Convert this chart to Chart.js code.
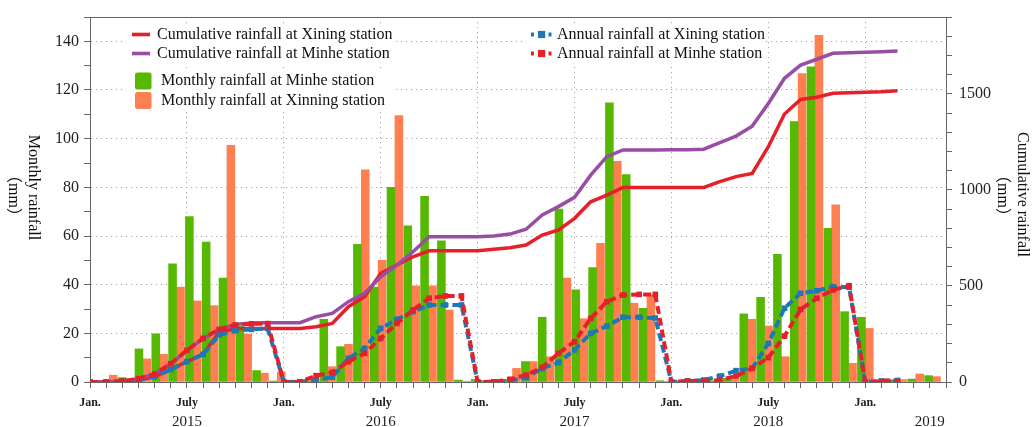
<!DOCTYPE html>
<html><head><meta charset="utf-8">
<script src="https://cdn.jsdelivr.net/npm/chart.js@4.4.0/dist/chart.umd.min.js"></script>
<style>html,body{margin:0;padding:0;background:#fff;overflow:hidden}canvas{display:block}</style>
</head><body>
<canvas id="c" width="1032" height="427"></canvas>
<script>
// ---- categories (months, Jan 2015 .. Mar 2019) ----
const months = ['2015-01','2015-02','2015-03','2015-04','2015-05','2015-06','2015-07','2015-08','2015-09','2015-10','2015-11','2015-12',
  '2016-01','2016-02','2016-03','2016-04','2016-05','2016-06','2016-07','2016-08','2016-09','2016-10','2016-11','2016-12',
  '2017-01','2017-02','2017-03','2017-04','2017-05','2017-06','2017-07','2017-08','2017-09','2017-10','2017-11','2017-12',
  '2018-01','2018-02','2018-03','2018-04','2018-05','2018-06','2018-07','2018-08','2018-09','2018-10','2018-11','2018-12',
  '2019-01','2019-02','2019-03'];

// ---- monthly rainfall (mm), left axis ----
const minheMonthly = [0.3,0.3,1.8,13.6,19.8,48.6,68.0,57.5,42.7,23.0,4.7,0.4,
  0.3,0.5,25.8,14.5,56.6,39.0,80.0,64.2,76.3,58.0,0.8,1.0,
  0.4,1.0,8.4,26.6,71.1,37.9,47.0,114.7,85.2,30.3,0.5,0.5,
  0.5,0.5,1.5,28.0,34.8,52.5,107.0,129.5,63.2,28.9,26.6,0.8,
  0.8,1.2,2.6];
const xiningMonthly = [0.5,2.8,1.0,9.5,11.4,39.0,33.3,31.4,97.3,19.7,3.6,4.2,
  0.5,1.0,6.3,15.5,87.2,50.0,109.5,39.5,39.5,29.6,0.3,0.5,
  0.4,5.6,8.4,10.4,42.7,26.0,57.0,90.7,32.4,35.8,0.3,0.3,
  0.3,1.0,1.0,25.8,23.0,10.4,126.7,142.5,72.8,7.7,22.0,1.5,
  1.0,3.3,2.2];

// ---- cumulative rainfall (mm), right axis ----
const xiningCumulative = [0,0,3,10,28,65,106,144,260,277,279,279,
  279,279,288,305,392,444,566,609,652,683,683,683,
  683,691,699,713,765,791,852,938,973,1013,1013,1013,
  1013,1013,1013,1043,1069,1086,1225,1395,1471,1482,1503,1506,
  1508,1511,1516];
const minheCumulative = [0,0.5,4,17,42,95,165,227,274,300,307,309,
  309,309,340,357,418,462,548,609,678,756,756,756,
  756,760,770,795,869,913,961,1077,1173,1208,1208,1208,
  1209,1209,1212,1246,1280,1332,1450,1581,1650,1680,1711,1714,
  1716,1719,1723];

// ---- annual (within-year) cumulative rainfall (mm), right axis ----
const xiningAnnual = [0,0,3,10,28,65,106,144,245,267,274,279,
  0,1,10,26,123,175,279,326,366,401,401,401,
  0,1,7,23,71,101,167,253,291,337,337,333,
  0,5,10,31,59,71,201,384,462,475,496,493,
  0,5,8];
const minheAnnual = [0,0.5,4,17,42,95,165,227,274,297,303,304,
  0,1,33,50,106,149,227,305,375,436,448,448,
  0,1,14,36,76,149,210,331,418,453,456,456,
  0,5,5,10,31,71,127,239,378,436,479,501,
  0,2,3];

// ---- tick labels ----
const monthTickPos  = [0,6,12,18,24,30,36,42,48];
const monthTickText = ['Jan.','July','Jan.','July','Jan.','July','Jan.','July','Jan.'];
const yearTickPos   = [6,18,30,42,52];
const yearTickText  = ['2015','2016','2017','2018','2019'];
const leftTickLabels  = [0,20,40,60,80,100,120,140];
const rightTickLabels = [0,500,1000,1500];

const SERIF = "'Liberation Serif','Times New Roman','Noto Sans CJK SC',serif";
Chart.defaults.font.family = SERIF;
Chart.defaults.color = '#222';

const C_GREEN = '#56b800', C_ORANGE = '#ff7f50', C_RED = '#e5202a', C_PURPLE = '#984ea3', C_BLUE = '#1f78b4';
const GRID = '#a8a8a8', AXIS = '#666', NONE = 'rgba(0,0,0,0)';

const pts = arr => arr.map((v, i) => ({x: months.indexOf(months[i]), y: v}));
const range = (a, b, s) => { const r = []; for (let v = a; v <= b + 1e-9; v += s) r.push({value: v}); return r; };

const legendPlugin = {
  id: 'customLegend',
  afterDraw(chart) {
    const ctx = chart.ctx, ds = chart.data.datasets;
    ctx.save();
    ctx.fillStyle = 'rgba(255,255,255,0.9)';
    ctx.fillRect(124, 24, 270, 39);
    ctx.fillRect(124, 70, 270, 41);
    ctx.fillRect(526, 24, 238, 39);
    ctx.font = '16px ' + SERIF;
    ctx.textBaseline = 'middle';
    ctx.textAlign = 'left';
    const lineRow = (d, y) => {
      ctx.fillStyle = d.borderColor; ctx.fillRect(132, y - 1.8, 18, 3.6);
      ctx.fillStyle = '#111'; ctx.fillText(d.label, 157, y);
    };
    lineRow(ds[3], 34.5);
    lineRow(ds[2], 53.5);
    const boxRow = (d, y) => {
      ctx.fillStyle = d.backgroundColor;
      ctx.beginPath(); ctx.roundRect(135, y - 8.5, 16.5, 17, 2.5); ctx.fill();
      ctx.fillStyle = '#111'; ctx.fillText(d.label, 161, y);
    };
    boxRow(ds[4], 81);
    boxRow(ds[5], 100.5);
    const dashRow = (d, y) => {
      ctx.fillStyle = d.borderColor;
      ctx.fillRect(531, y - 2, 3, 4);
      ctx.fillRect(538, y - 3.6, 7.2, 7.2);
      ctx.fillRect(548.5, y - 2, 3, 4);
      ctx.fillStyle = '#111'; ctx.fillText(d.label, 557, y);
    };
    dashRow(ds[1], 34.5);
    dashRow(ds[0], 53.5);
    ctx.restore();
  }
};

const framePlugin = {
  id: 'frame',
  beforeDatasetsDraw(chart) {
    const {ctx, chartArea: a} = chart;
    ctx.save();
    ctx.strokeStyle = AXIS; ctx.lineWidth = 1;
    ctx.beginPath(); ctx.moveTo(a.left, a.top + 0.5); ctx.lineTo(a.right, a.top + 0.5); ctx.stroke();
    ctx.restore();
  },
  afterDraw(chart) {
    const ctx = chart.ctx;
    const a = chart.chartArea;
    const cy = (a.top + a.bottom) / 2;
    ctx.save();
    ctx.fillStyle = '#111';
    ctx.font = '16px ' + SERIF;
    ctx.textAlign = 'center';
    ctx.textBaseline = 'alphabetic';
    const vtext = (txt, x, y) => { ctx.save(); ctx.translate(x, y); ctx.rotate(Math.PI / 2); ctx.fillText(txt, 0, 0); ctx.restore(); };
    vtext('Monthly rainfall', 29, cy - 12);
    vtext('（mm）', 9, cy - 4);
    vtext('Cumulative rainfall', 1018, cy - 5);
    vtext('（mm）', 998, cy - 4);
    ctx.restore();
  }
};

new Chart(document.getElementById('c'), {
  type: 'bar',
  data: {
    datasets: [
      {type: 'line', label: 'Annual rainfall at Minhe station', data: pts(minheAnnual), xAxisID: 'x', yAxisID: 'y2',
       borderColor: C_RED, backgroundColor: C_RED, borderWidth: 4, borderDash: [8, 4], pointStyle: 'rect',
       pointRadius: 4, pointBorderWidth: 0, pointBackgroundColor: C_RED, tension: 0, order: 0},
      {type: 'line', label: 'Annual rainfall at Xining station', data: pts(xiningAnnual), xAxisID: 'x', yAxisID: 'y2',
       borderColor: C_BLUE, backgroundColor: C_BLUE, borderWidth: 4, borderDash: [8, 4], pointStyle: 'rect',
       pointRadius: 4, pointBorderWidth: 0, pointBackgroundColor: C_BLUE, tension: 0, order: 1},
      {type: 'line', label: 'Cumulative rainfall at Minhe station', data: pts(minheCumulative), xAxisID: 'x', yAxisID: 'y2',
       borderColor: C_PURPLE, borderWidth: 3.5, pointRadius: 0, tension: 0, order: 2},
      {type: 'line', label: 'Cumulative rainfall at Xining station', data: pts(xiningCumulative), xAxisID: 'x', yAxisID: 'y2',
       borderColor: C_RED, borderWidth: 3.5, pointRadius: 0, tension: 0, order: 3},
      {type: 'bar', label: 'Monthly rainfall at Minhe station', data: pts(minheMonthly), xAxisID: 'xb', yAxisID: 'y',
       backgroundColor: C_GREEN, borderWidth: 0, barThickness: 7.9, order: 10},
      {type: 'bar', label: 'Monthly rainfall at Xinning station', data: pts(xiningMonthly), xAxisID: 'xb', yAxisID: 'y',
       backgroundColor: C_ORANGE, borderWidth: 0, barThickness: 7.9, order: 11}
    ]
  },
  options: {
    responsive: false, devicePixelRatio: 1, animation: false, events: [],
    layout: {padding: {top: 17, left: 0, right: 0, bottom: 0}},
    plugins: {legend: {display: false}, tooltip: {enabled: false}},
    scales: {
      x: {
        type: 'linear', position: 'bottom', min: 0, max: 53, weight: 0, offset: false,
        afterBuildTicks: s => { s.ticks = range(0, 53, 1); },
        afterFit: s => { s.height = 28; },
        ticks: {autoSkip: false, maxRotation: 0, minRotation: 0, padding: 8, color: '#222',
          font: {size: 12, weight: 'bold'},
          callback: v => { const i = monthTickPos.indexOf(v); return i >= 0 ? monthTickText[i] : ''; }},
        grid: {offset: false, color: c => (c.tick && c.tick.value % 6 === 0 && c.tick.value > 0) ? GRID : NONE,
          lineWidth: 1, tickColor: AXIS, tickWidth: 1, tickLength: 6},
        border: {color: AXIS, width: 1, dash: [1.2, 3.8]}
      },
      xYear: {
        type: 'linear', position: 'bottom', min: 0, max: 53, weight: 1, offset: false,
        afterBuildTicks: s => { s.ticks = yearTickPos.map(v => ({value: v})); },
        afterFit: s => { s.height = 17; },
        ticks: {autoSkip: false, maxRotation: 0, minRotation: 0, padding: 3, color: '#222', font: {size: 15},
          callback: v => { const i = yearTickPos.indexOf(v); return i >= 0 ? yearTickText[i] : ''; }},
        grid: {display: false, drawTicks: false, offset: false},
        border: {display: false}
      },
      xb: {
        type: 'linear', display: false, min: -0.15, max: 50.8, offset: false,
        grid: {offset: false},
        afterBuildTicks: s => { s.ticks = [{value: 0}, {value: 50}]; }
      },
      y: {
        type: 'linear', position: 'left', min: 0, max: 150,
        afterBuildTicks: s => { s.ticks = range(0, 150, 10); },
        afterFit: s => { s.width = 90; },
        ticks: {autoSkip: false, padding: 5, color: '#222', font: {size: 16},
          callback: v => leftTickLabels.includes(v) ? String(v) : ''},
        grid: {color: c => (c.tick && c.tick.value % 20 === 0 && c.tick.value > 0 && c.tick.value < 150) ? GRID : NONE,
          lineWidth: 1, tickColor: AXIS, tickWidth: 1, tickLength: 6},
        border: {color: AXIS, width: 1, dash: [1.2, 3.8]}
      },
      y2: {
        type: 'linear', position: 'right', min: 0, max: 1900,
        afterBuildTicks: s => { s.ticks = range(0, 1900, 100); },
        afterFit: s => { s.width = 86; },
        ticks: {autoSkip: false, padding: 7, color: '#222', font: {size: 16},
          callback: v => rightTickLabels.includes(v) ? String(v) : ''},
        grid: {drawOnChartArea: false, tickColor: AXIS, tickWidth: 1, tickLength: 6},
        border: {color: AXIS, width: 1}
      }
    }
  },
  plugins: [framePlugin, legendPlugin]
});
</script>
</body></html>
